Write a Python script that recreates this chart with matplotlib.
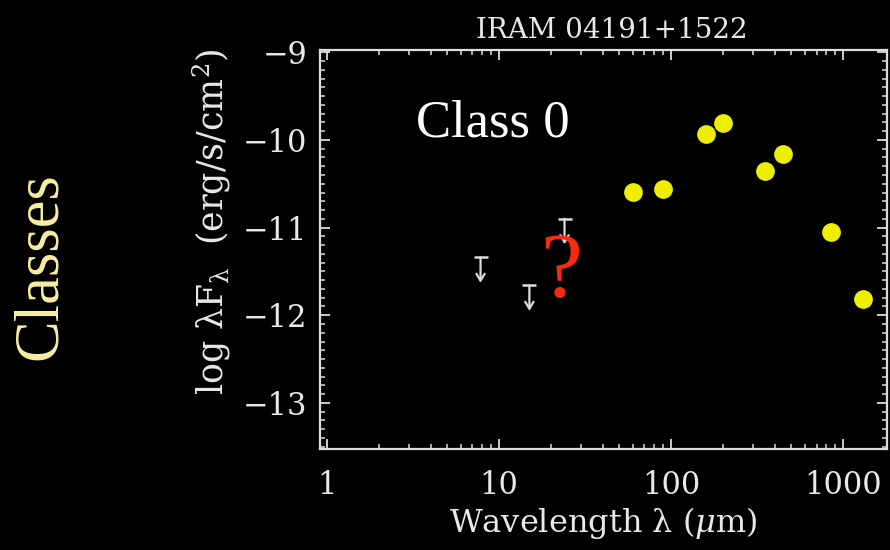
import matplotlib
matplotlib.use('Agg')
import matplotlib.pyplot as plt
from matplotlib.ticker import FixedLocator, MultipleLocator, LogLocator, NullFormatter

# photometry (log lambda F_lambda, erg/s/cm^2)
wave = [60, 90, 160, 200, 350, 450, 850, 1300]
log_flux = [-10.59, -10.565, -9.93, -9.81, -10.36, -10.16, -11.05, -11.82]

# upper limits
lim_wave = [7.8, 15, 24]
lim_flux = [-11.34, -11.66, -10.90]

x_ticks = [1, 10, 100, 1000]
x_ticklabels = ['1', '10', '100', '1000']
y_ticks = [-13, -12, -11, -10, -9]

plt.rcParams['mathtext.fontset'] = 'dejavuserif'
axis_col = '#dcdcdc'
serif = 'DejaVu Serif'

fig = plt.figure(figsize=(8.9, 5.5), dpi=100, facecolor='black')
ax = fig.add_axes([0.3596, 0.1845, 0.6371, 0.7245], facecolor='black')

ax.plot(wave, log_flux, 'o', ms=13.5, color='#eeee00', mec='none', zorder=3)

arrow_len = 0.29
ax.plot(lim_wave, lim_flux, '_', ms=10, mew=1.8, color=axis_col, zorder=3)
for w, f in zip(lim_wave, lim_flux):
    ax.annotate('', xy=(w, f - arrow_len), xytext=(w, f),
                arrowprops=dict(arrowstyle='->,head_length=0.5,head_width=0.3',
                                color=axis_col, lw=1.6, shrinkA=0, shrinkB=0),
                zorder=3)

ax.set_xscale('log')
ax.set_xlim(0.91, 1800)
ax.set_ylim(-13.52, -8.975)

ax.xaxis.set_major_locator(FixedLocator(x_ticks))
ax.set_xticklabels(x_ticklabels)
ax.xaxis.set_minor_locator(LogLocator(base=10, subs=range(2, 10)))
ax.xaxis.set_minor_formatter(NullFormatter())
ax.yaxis.set_major_locator(FixedLocator(y_ticks))
ax.yaxis.set_minor_locator(MultipleLocator(0.1))

ax.tick_params(which='both', direction='in', top=True, right=True,
               color=axis_col, labelcolor='#e8e8e8')
ax.tick_params(which='major', length=7.5, width=1.3, labelsize=22)
ax.tick_params(which='minor', length=3.8, width=1.1)
ax.tick_params(axis='x', which='major', pad=15.5)
ax.tick_params(axis='y', which='major', pad=9)
for lab in ax.get_xticklabels() + ax.get_yticklabels():
    lab.set_family(serif)
for sp in ax.spines.values():
    sp.set_color(axis_col)
    sp.set_linewidth(1.6)

ax.set_xlabel(r'Wavelength λ ($\mu$m)', fontsize=23, family=serif,
              color='#e8e8e8', labelpad=3)
ax.set_title('IRAM 04191+1522', fontsize=20, family=serif,
             color='#e8e8e8', pad=9, x=0.515)
fig.text(212 / 890, 1 - 222 / 550, r'log λF$_{\mathrm{\lambda}}$  (erg/s/cm$^{2}$)',
         rotation=90, ha='center', va='center', fontsize=25, family=serif,
         color='#e8e8e8')

ax.text(3.27, -9.965, 'Class 0', fontsize=38, family='Liberation Serif',
        color='white', ha='left', va='baseline')
ax.text(23.0, -11.79, '?', fontsize=68, family='Liberation Serif',
        color='#f52a10', ha='center', va='baseline', zorder=5)

fig.text(41 / 890, 1 - 266 / 550, 'Classes', rotation=90, ha='center',
         va='center', fontsize=45, family='Liberation Serif', color='#f6efa2')

fig.savefig('out.png', dpi=100, facecolor='black')
